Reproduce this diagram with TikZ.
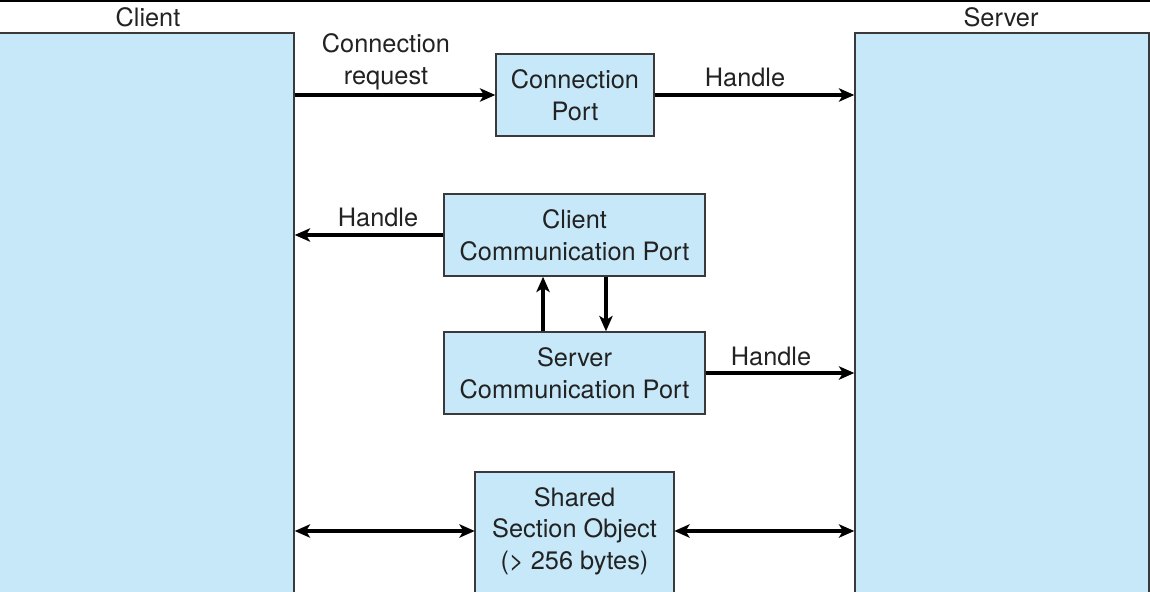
\documentclass[tikz,border=0pt]{standalone}
\usepackage{fontspec}
\setmainfont{TeX Gyre Heros}
\usetikzlibrary{arrows.meta}

\begin{document}
\begin{tikzpicture}[x=0.75pt,y=-0.75pt,
		boxfill/.style={draw=boxline,fill=boxblue,line width=1.1pt},
		box/.style={boxfill,inner sep=0pt,align=center,text=textgray,font=\fontsize{19}{23.75}\selectfont},
		lbl/.style={align=center,text=textgray,font=\fontsize{19}{23.75}\selectfont},
		arr/.style={line width=2.5pt,-{Stealth[length=11.5pt,width=10pt,inset=3pt]}},
		darr/.style={line width=2.5pt,{Stealth[length=11.5pt,width=10pt,inset=3pt]}-{Stealth[length=11.5pt,width=10pt,inset=3pt]}}]
					\definecolor{boxblue}{HTML}{C6E8F8}
					\definecolor{boxline}{HTML}{3A3A3A}
					\definecolor{textgray}{HTML}{222222}
					
					\useasboundingbox (0,0) rectangle (1150,592);
					\clip (0,0) rectangle (1150,592);
					\draw[line width=1.5pt] (0,1) -- (1150,1);
					
					% client and server
					\node[box,minimum width=222pt,minimum height=425.25pt] (client) at (146,316.5) {};
					\node[box,minimum width=220.5pt,minimum height=425.25pt] (server) at (1002,316.5) {};
					\node[lbl] (clientlbl) at (148,17) {Client};
					\node[lbl] (serverlbl) at (1001,17) {Server};
					
					% ports
					\node[box,minimum width=118.5pt,minimum height=61.5pt] (connport) at (575,95) {Connection\\Port};
					\node[box,minimum width=195.75pt,minimum height=61.5pt] (clientport) at (574.5,235) {Client\\Communication Port};
					\node[box,minimum width=195.75pt,minimum height=61.5pt] (serverport) at (574.5,373) {Server\\Communication Port};
					
					% shared section
					\draw[boxfill] (475,472) rectangle (674,600);
					\node[lbl,minimum width=149.25pt] (shared) at (574.5,531) {Shared\\Section Object\\(> 256 bytes)};
					
					% labels
					\node[lbl] (reqlbl) at (386,62) {Connection\\request};
					\node[lbl] (handleA) at (745,77) {Handle};
					\node[lbl] (handleB) at (378,217) {Handle};
					\node[lbl] (handleC) at (771,356) {Handle};
					
					% arrows
					\draw[arr] (client.east |- connport.west) -- (connport.west);
					\draw[arr] (connport.east) -- (server.west |- connport.east);
					\draw[arr] (clientport.west) -- (client.east |- clientport.west);
					\draw[arr] (serverport.east) -- (server.west |- serverport.east);
					\draw[arr] ([xshift=-23.6pt]serverport.north) -- ([xshift=-23.6pt]clientport.south);
					\draw[arr] ([xshift=23.6pt]clientport.south) -- ([xshift=23.6pt]serverport.north);
					\draw[darr] (client.east |- shared.west) -- (shared.west);
					\draw[darr] (shared.east) -- (server.west |- shared.east);
				\end{tikzpicture}
\end{document}
